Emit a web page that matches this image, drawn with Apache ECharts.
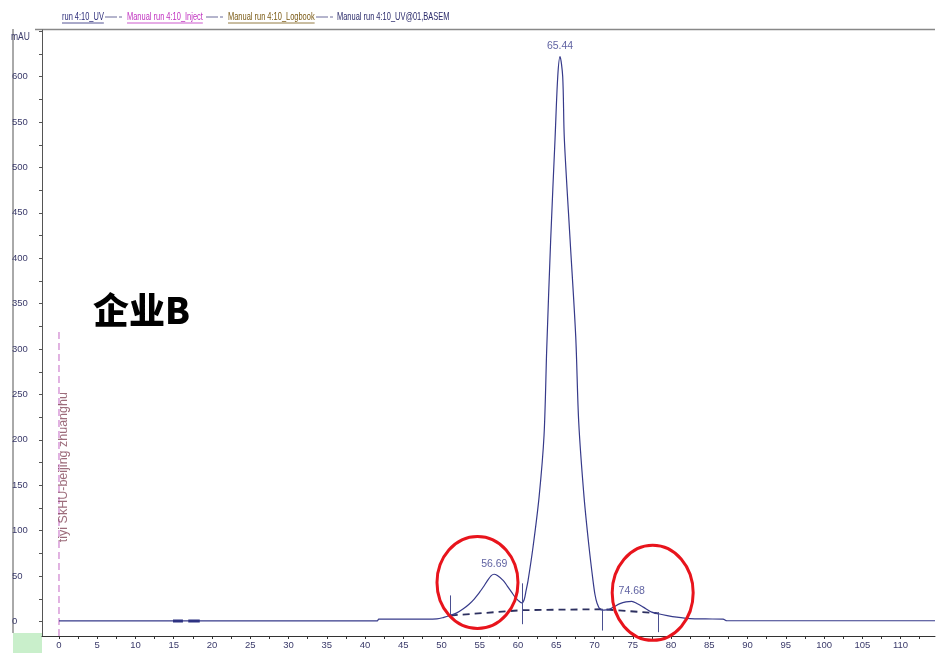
<!DOCTYPE html>
<html><head><meta charset="utf-8">
<script src="https://cdn.jsdelivr.net/npm/echarts@6/dist/echarts.min.js"></script>
<style>html,body{margin:0;padding:0;background:#fff}#c{width:940px;height:653px}</style>
</head><body><div id="c"></div>
<script>
// ---- data ----
const chartTitle = '企业B';
const legendNames = ['run 4:10_UV', 'Manual run 4:10_Inject', 'Manual run 4:10_Logbook', 'Manual run 4:10_UV@01,BASEM'];
const logbookText = 'tiyi SkHU-beijing zhuanghu';
const uvTime = [0, 5, 10, 14.8, 20, 25, 30, 35, 41.6, 41.8, 45, 48, 49.4, 50.3, 51.1, 52.0, 52.85, 53.6, 54.3, 55.0, 55.46, 56.0, 56.5, 56.86, 57.3, 58.08, 58.6, 59.18, 59.6, 60.04, 60.48, 60.8, 61.05, 61.31, 61.96, 62.75, 63.4, 63.75, 64.27, 64.84, 65.19, 65.49, 65.84, 66.05, 66.8, 67.54, 67.93, 68.63, 69.28, 69.8, 70.05, 70.33, 70.72, 71.2, 71.8, 72.46, 73.33, 74.1, 74.86, 75.6, 76.38, 77.48, 78.34, 79.5, 80.75, 82.48, 84.5, 86.8, 87.3, 90, 100, 110, 114.5];
const uvAbs  = [0.6, 0.6, 0.6, 0.6, 0.6, 0.6, 0.6, 0.6, 0.6, 2.6, 2.6, 2.6, 2.8, 4.5, 6.6, 9.5, 14.0, 19, 25, 32.5, 38, 45, 50.5, 52, 50.5, 45, 39, 32, 27, 23, 20.5, 24, 34, 45, 82, 137, 205, 300, 421, 532, 600, 622, 600, 532, 421, 314, 220, 137, 82, 45, 30, 20, 13.5, 12.5, 13, 15.8, 19.6, 21.5, 22.1, 19.5, 15.8, 10.3, 8.5, 6.5, 4.8, 3.2, 2.8, 2.6, 0.8, 0.8, 0.8, 0.8, 0.8];
const blobTime = [14.9, 16.2, null, 16.9, 18.4];
const blobAbs  = [0.6, 0.6, null, 0.6, 0.6];
const injectTime = [0, 0];
const injectAbs = [-16, 319];
const baseTime = [51.2, 60.56, 71.07, 78.34];
const baseAbs  = [6.6, 12.5, 13.5, 9.0];
const markerTime = [51.2, 60.56, 71.07, 78.34];
const markerTop = [28.7, 42, 14, 10.3];
const markerBottom = [4.8, -3, -10, -11.8];
const peakNames = ['56.69', '65.44', '74.68'];
const peakTime = [56.9, 65.49, 74.86];
const peakAbs = [52, 622, 22.1];
const circleTime = [54.7, 77.6];
const circleAbs = [43, 31.5];
const xLabelValues = [0,5,10,15,20,25,30,35,40,45,50,55,60,65,70,75,80,85,90,95,100,105,110];
const xTickValues = [0,2.5,5,7.5,10,12.5,15,17.5,20,22.5,25,27.5,30,32.5,35,37.5,40,42.5,45,47.5,50,52.5,55,57.5,60,62.5,65,67.5,70,72.5,75,77.5,80,82.5,85,87.5,90,92.5,95,97.5,100,102.5,105,107.5,110,112.5];
const yLabelValues = [0,50,100,150,200,250,300,350,400,450,500,550,600];
const yTickValues = [0,25,50,75,100,125,150,175,200,225,250,275,300,325,350,375,400,425,450,475,500,525,550,575,600,625,650];

// ---- build ----
const SANS = "'Liberation Sans',Arial,sans-serif";
const NAVY = '#363a8a';
const zip = (a, b) => a.map((v, i) => (v === null ? null : [v, b[i]]));

const chart = echarts.init(document.getElementById('c'), null, {renderer: 'canvas'});
const option = {
  animation: false,
  backgroundColor: '#fff',
  title: {text: chartTitle, left: 88, top: 287, textStyle: {fontFamily: "'Noto Sans CJK SC',sans-serif", fontSize: 36, fontWeight: 900, color: '#000'}},
  grid: {left: 42, top: 30, right: 5, bottom: 17},
  xAxis: {
    type: 'value', min: -2.22, max: 114.5,
    axisLine: {show: true, onZero: false, lineStyle: {color: '#333', width: 1}},
    axisTick: {show: true, length: 3, customValues: xTickValues, lineStyle: {color: '#333'}},
    axisLabel: {customValues: xLabelValues, margin: 4, fontFamily: SANS, fontSize: 9.5, color: '#3a3a6a'},
    splitLine: {show: false}
  },
  yAxis: {
    type: 'value', min: -16, max: 651.4,
    axisLine: {show: true, onZero: false, lineStyle: {color: '#555', width: 1}},
    axisTick: {show: true, length: 3, customValues: yTickValues, lineStyle: {color: '#555'}},
    axisLabel: {customValues: yLabelValues, margin: 30, align: 'left', fontFamily: SANS, fontSize: 9.5, color: '#3a3a6a'},
    splitLine: {show: false}
  },
  series: [
    {name: legendNames[1], type: 'line', data: zip(injectTime, injectAbs), symbol: 'none',
     lineStyle: {color: '#c468c4', width: 1, type: [7, 4]}, z: 2},
    {name: legendNames[2], type: 'scatter', data: [[0.62, 170]], symbolSize: 0,
     label: {show: true, formatter: logbookText, rotate: 90, position: 'inside', color: '#84495a', fontFamily: SANS, fontSize: 12.5}},
    {name: legendNames[0], type: 'line', data: zip(uvTime, uvAbs), symbol: 'none', smooth: 0.3,
     lineStyle: {color: NAVY, width: 1.2}, z: 4},
    {name: 'blobs', type: 'line', data: zip(blobTime, blobAbs), symbol: 'none', connectNulls: false,
     lineStyle: {color: '#2d3282', width: 3}, z: 4},
    {name: legendNames[3], type: 'line', data: zip(baseTime, baseAbs), symbol: 'none',
     lineStyle: {color: '#2d3060', width: 1.8, type: [7, 5]}, z: 3,
     markLine: {symbol: 'none', silent: true, label: {show: false},
       lineStyle: {color: '#4a4f90', width: 1, type: 'solid'},
       data: markerTime.map((t, i) => [{coord: [t, markerTop[i]]}, {coord: [t, markerBottom[i]]}])}},
    {name: 'peaks', type: 'scatter', data: peakTime.map((t, i) => ({value: [t, peakAbs[i]], name: peakNames[i]})), symbolSize: 0,
     label: {show: true, position: 'top', distance: 5, formatter: p => p.name, color: NAVY, fontFamily: SANS, fontSize: 10.5}}
  ]
};
chart.setOption(option);

// ---- decorations (legend strip, frame, annotations) ----
const g = [];
g.push({type: 'rect', shape: {x: 13, y: 633, width: 29, height: 20}, style: {fill: '#c9efcb'}, silent: true});
g.push({type: 'line', shape: {x1: 13, y1: 29, x2: 13, y2: 633}, style: {stroke: '#555', lineWidth: 1}, silent: true});
g.push({type: 'line', shape: {x1: 35, y1: 29.5, x2: 935, y2: 29.5}, style: {stroke: '#888', lineWidth: 1.5}, silent: true});
g.push({type: 'text', x: 11, y: 32, scaleX: 0.85, style: {text: 'mAU', font: '10px ' + SANS, fill: '#3a3a6a'}, silent: true});
const legItems = [
  {x: 62, color: '#2a2a78', under: true},
  {x: 127, color: '#c030c0', under: true},
  {x: 228, color: '#7a5a14', under: true},
  {x: 337, color: '#2a2a6a', under: false}
];
const sampleX = [105, 206, 316];
const LF = 10.5;
const SX = 0.71;
const ctx = document.createElement('canvas').getContext('2d');
ctx.font = LF + 'px ' + SANS;
legItems.forEach((it, i) => {
  g.push({type: 'text', x: it.x, y: 17, scaleX: SX, style: {text: legendNames[i], font: LF + 'px ' + SANS, fill: it.color, textVerticalAlign: 'middle'}, silent: true});
  if (it.under) {
    const w = ctx.measureText(legendNames[i]).width * SX;
    g.push({type: 'line', shape: {x1: it.x, y1: 23, x2: it.x + w, y2: 23}, style: {stroke: it.color, lineWidth: 0.8}, silent: true});
  }
});
sampleX.forEach(x => {
  g.push({type: 'line', shape: {x1: x, y1: 17, x2: x + 12, y2: 17}, style: {stroke: '#6a6a9a', lineWidth: 1}, silent: true});
  g.push({type: 'line', shape: {x1: x + 14, y1: 17, x2: x + 17, y2: 17}, style: {stroke: '#6a6a9a', lineWidth: 1}, silent: true});
});
circleTime.forEach((t, i) => {
  const p = chart.convertToPixel({gridIndex: 0}, [t, circleAbs[i]]);
  g.push({type: 'ellipse', shape: {cx: p[0], cy: p[1], rx: 40.5, ry: i === 0 ? 46 : 47.5}, style: {fill: 'none', stroke: '#e8141c', lineWidth: 3}, z: 100, silent: true});
});
chart.setOption({graphic: g});
</script></body></html>
